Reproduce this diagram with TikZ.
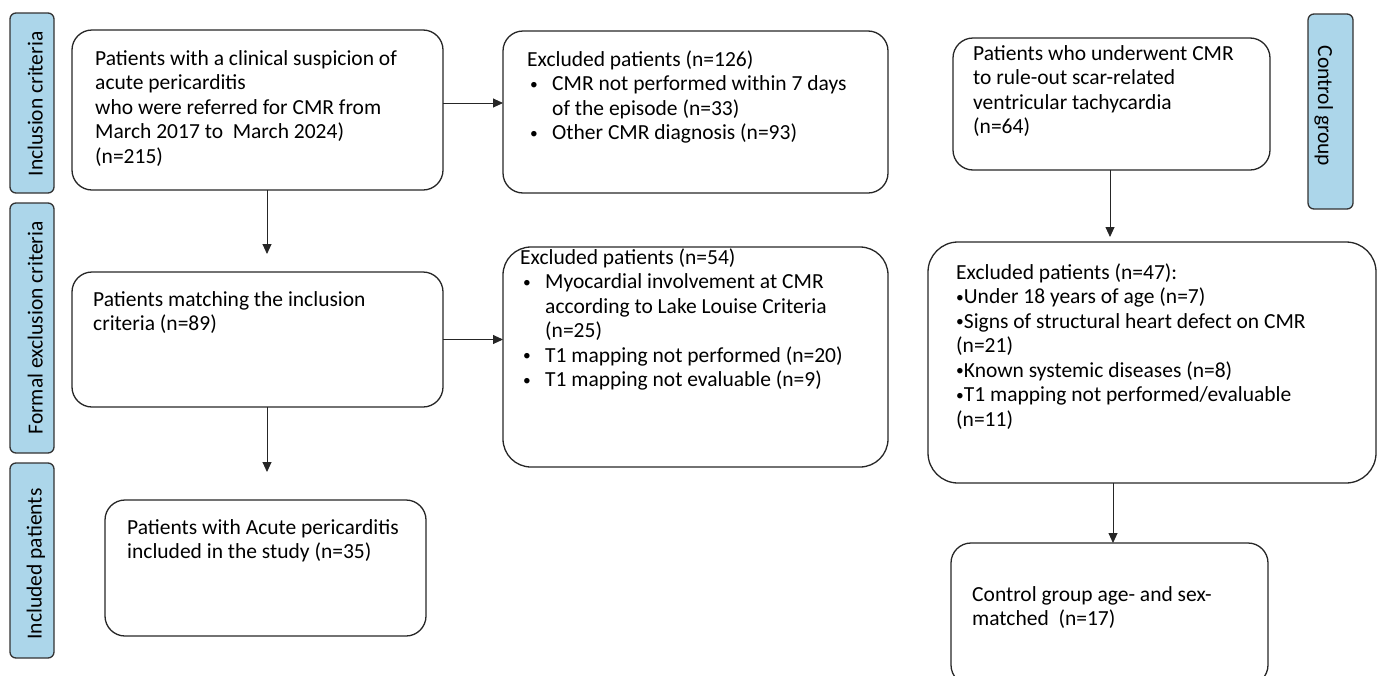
\documentclass[tikz,border=0pt]{standalone}
\usepackage{fontspec}
\usepackage{graphicx}
\setmainfont{Carlito}
\usetikzlibrary{arrows.meta}
\definecolor{sideblue}{RGB}{172,214,234}
\newcommand\fsz{\fontsize{21.5}{24.5}\selectfont}
\newcommand\bul{\raisebox{1.6pt}{\scalebox{0.72}{•}}}
\newcommand\itm{\makebox[25pt][l]{\hspace{3pt}\bul}}
\newcommand\ind{\hspace*{25pt}}
\begin{document}
\begin{tikzpicture}[x=1pt,y=-1pt,
  box/.style={draw=black!85, line width=1.3pt, rounded corners=20pt, inner sep=0pt, outer sep=0pt, anchor=north west},
  sidebox/.style={draw=black!80, fill=sideblue, line width=1.3pt, rounded corners=6pt, inner sep=0pt, outer sep=0pt, anchor=north west},
  sidetext/.style={font=\fsz, inner sep=0pt, anchor=base},
  txt/.style={font=\fsz, anchor=north west, inner sep=0pt, align=left},
  arr/.style={line width=0.9pt, draw=black!85, -{Triangle[length=10pt,width=9pt]}}]
\useasboundingbox (0,0) rectangle (1378,675);

% side labels
\node[sidebox, minimum width=44pt, minimum height=180pt] (S1) at (10,13) {};
\node[sidebox, minimum width=44pt, minimum height=250pt] (S2) at (10,203) {};
\node[sidebox, minimum width=44pt, minimum height=195pt] (S3) at (10,463) {};
\node[sidebox, minimum width=45pt, minimum height=195pt] (S4) at (1308,14) {};
\node[sidetext, rotate=90] (T1) at (42.5,104) {Inclusion criteria};
\node[sidetext, rotate=90] (T2) at (42.5,328) {Formal exclusion criteria};
\node[sidetext, rotate=90] (T3) at (41.5,564) {Included patients};
\node[sidetext, rotate=-90] (T4) at (1318,106) {Control group};

% boxes
\node[box, minimum width=371pt, minimum height=160pt] (A) at (72,30) {};
\node[box, minimum width=385pt, minimum height=162pt] (B) at (503,31) {};
\node[box, minimum width=317pt, minimum height=132pt] (C) at (953,38) {};
\node[box, minimum width=371pt, minimum height=135pt] (D) at (72,272) {};
\node[box, minimum width=385pt, minimum height=220pt, rounded corners=28pt] (E) at (503,247) {};
\node[box, minimum width=448pt, minimum height=241pt, rounded corners=30pt] (F) at (928,242) {};
\node[box, minimum width=321pt, minimum height=136pt] (G) at (105,500) {};
\node[box, minimum width=317pt, minimum height=142pt] (H) at (951,543) {};

% texts
\node[txt] (At) at (95,47.9) {\strut Patients with a clinical suspicion of\\acute pericarditis\\who were referred for CMR from\\March 2017 to~ March 2024)\\(n=215)};
\node[txt] (Bt) at (527,48.9) {\strut Excluded patients (n=126)\\\itm CMR not performed within 7 days\\\ind of the episode (n=33)\\\itm Other CMR diagnosis (n=93)};
\node[txt] (Ct) at (973,42.9) {\strut Patients who underwent CMR\\to rule-out scar-related\\ventricular tachycardia\\(n=64)};
\node[txt] (Dt) at (93,288.9) {\strut Patients matching the inclusion\\criteria (n=89)};
\node[txt] (Et) at (520,246.9) {\strut Excluded patients (n=54)\\\itm Myocardial involvement at CMR\\\ind according to Lake Louise Criteria\\\ind (n=25)\\\itm T1 mapping not performed (n=20)\\\itm T1 mapping not evaluable (n=9)};
\node[txt] (Ft) at (956,261.9) {\strut Excluded patients (n=47):\\\bul Under 18 years of age (n=7)\\\bul Signs of structural heart defect on CMR\\(n=21)\\\bul Known systemic diseases (n=8)\\\bul T1 mapping not performed/evaluable\\(n=11)};
\node[txt] (Gt) at (127,516.9) {\strut Patients with Acute pericarditis\\included in the study (n=35)};
\node[txt] (Ht) at (972,583.9) {\strut Control group age- and sex-\\matched~ (n=17)};

% connectors
\draw[arr] ([yshift=7pt]A.east) -- ([yshift=7pt]A.east -| B.west);
\draw[arr, shorten >=18pt] ([xshift=9.5pt]A.south) -- ([xshift=9.5pt]A.south |- D.north);
\draw[arr] (D.east) -- (D.east -| E.west);
\draw[arr, shorten >=28pt] ([xshift=9.5pt]D.south) -- ([xshift=9.5pt]D.south |- G.north);
\draw[arr, shorten >=5pt] ([xshift=-1.5pt]C.south) -- ([xshift=-1.5pt]C.south |- F.north);
\draw[arr] ([xshift=3.5pt]H.north |- F.south) -- ([xshift=3.5pt]H.north);
\end{tikzpicture}
\end{document}
